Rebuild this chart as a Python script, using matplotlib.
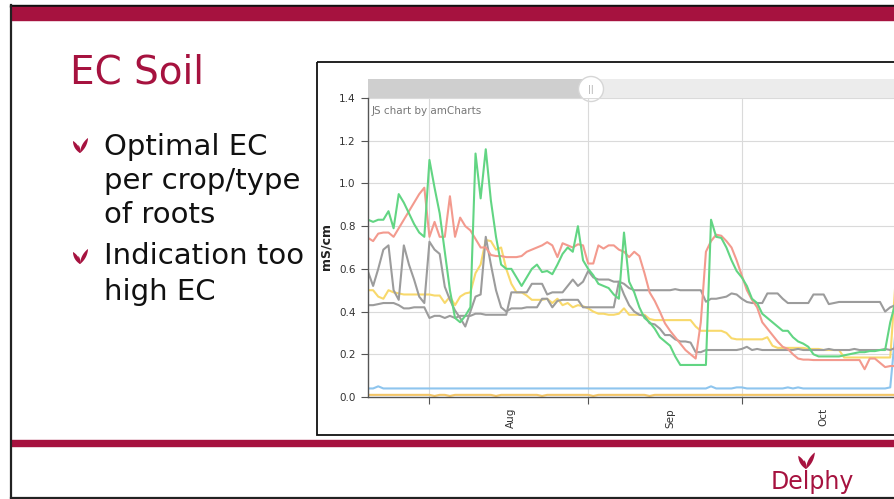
import matplotlib
matplotlib.use('Agg')
import matplotlib.pyplot as plt
import matplotlib.dates as mdates
import matplotlib.patches as mpatches
import matplotlib.ticker as mticker
import numpy as np
import pandas as pd

# daily soil EC readings (mS/cm), 20 Jul - 31 Oct
days = pd.date_range('2018-07-20', periods=104, freq='D')

green = [0.83, 0.82, 0.83, 0.83, 0.87, 0.79, 0.95, 0.91, 0.86, 0.81,
         0.77, 0.75, 1.11, 0.98, 0.86, 0.68, 0.50, 0.37, 0.35, 0.38,
         0.42, 1.14, 0.93, 1.16, 0.92, 0.75, 0.62, 0.60, 0.60, 0.56,
         0.52, 0.56, 0.60, 0.62, 0.585, 0.59, 0.575, 0.62, 0.67, 0.70,
         0.68, 0.80, 0.64, 0.60, 0.57, 0.53, 0.52, 0.51, 0.48, 0.46,
         0.77, 0.54, 0.49, 0.42, 0.37, 0.35, 0.32, 0.28, 0.26, 0.24,
         0.19, 0.15, 0.15, 0.15, 0.15, 0.15, 0.15, 0.83, 0.75, 0.745,
         0.70, 0.64, 0.59, 0.56, 0.52, 0.46, 0.44, 0.39, 0.37, 0.35,
         0.33, 0.31, 0.31, 0.28, 0.26, 0.25, 0.235, 0.20, 0.19, 0.19,
         0.19, 0.19, 0.19, 0.195, 0.20, 0.205, 0.21, 0.21, 0.215, 0.215,
         0.22, 0.22, 0.35, 0.44]

red = [0.745, 0.73, 0.765, 0.77, 0.77, 0.75, 0.79, 0.83, 0.87, 0.91,
       0.95, 0.98, 0.75, 0.82, 0.75, 0.75, 0.94, 0.75, 0.84, 0.80,
       0.78, 0.74, 0.70, 0.70, 0.665, 0.66, 0.66, 0.655, 0.655, 0.655,
       0.66, 0.68, 0.69, 0.70, 0.71, 0.725, 0.71, 0.655, 0.72, 0.71,
       0.70, 0.715, 0.71, 0.625, 0.625, 0.71, 0.695, 0.71, 0.71, 0.69,
       0.68, 0.655, 0.68, 0.66, 0.58, 0.49, 0.45, 0.40, 0.345, 0.31,
       0.28, 0.25, 0.22, 0.20, 0.18, 0.35, 0.68, 0.73, 0.76, 0.755,
       0.73, 0.70, 0.64, 0.57, 0.50, 0.455, 0.42, 0.35, 0.32, 0.29,
       0.26, 0.235, 0.225, 0.20, 0.18, 0.175, 0.175, 0.173, 0.173, 0.173,
       0.173, 0.173, 0.173, 0.173, 0.173, 0.173, 0.173, 0.13, 0.18, 0.18,
       0.16, 0.14, 0.145, 0.145]

gray_a = [0.587, 0.52, 0.60, 0.69, 0.71, 0.50, 0.455, 0.71, 0.62, 0.55,
          0.47, 0.44, 0.727, 0.69, 0.67, 0.516, 0.455, 0.405, 0.37, 0.33,
          0.40, 0.47, 0.48, 0.75, 0.62, 0.50, 0.42, 0.40, 0.415, 0.415,
          0.415, 0.42, 0.42, 0.42, 0.46, 0.46, 0.42, 0.45, 0.455, 0.455,
          0.455, 0.455, 0.42, 0.42, 0.42, 0.42, 0.42, 0.42, 0.42, 0.54,
          0.48, 0.43, 0.40, 0.385, 0.38, 0.345, 0.34, 0.32, 0.29, 0.29,
          0.27, 0.26, 0.26, 0.255, 0.21, 0.21, 0.22, 0.22, 0.22, 0.22,
          0.22, 0.22, 0.22, 0.225, 0.235, 0.22, 0.225, 0.22, 0.22, 0.22,
          0.22, 0.22, 0.22, 0.22, 0.225, 0.22, 0.22, 0.22, 0.22, 0.22,
          0.225, 0.22, 0.22, 0.22, 0.22, 0.225, 0.22, 0.22, 0.22, 0.22,
          0.22, 0.225, 0.22, 0.23]

gray_b = [0.43, 0.43, 0.435, 0.44, 0.44, 0.44, 0.43, 0.415, 0.415, 0.42,
          0.42, 0.42, 0.37, 0.38, 0.38, 0.37, 0.38, 0.37, 0.38, 0.38,
          0.38, 0.39, 0.39, 0.385, 0.385, 0.385, 0.385, 0.385, 0.49, 0.49,
          0.49, 0.49, 0.53, 0.53, 0.53, 0.48, 0.49, 0.49, 0.49, 0.52,
          0.55, 0.52, 0.54, 0.59, 0.56, 0.55, 0.55, 0.55, 0.54, 0.54,
          0.53, 0.51, 0.50, 0.50, 0.50, 0.50, 0.50, 0.50, 0.50, 0.50,
          0.505, 0.50, 0.50, 0.50, 0.50, 0.50, 0.446, 0.46, 0.46, 0.465,
          0.47, 0.485, 0.48, 0.46, 0.445, 0.44, 0.44, 0.44, 0.485, 0.485,
          0.485, 0.46, 0.44, 0.44, 0.44, 0.44, 0.44, 0.48, 0.48, 0.48,
          0.435, 0.44, 0.445, 0.445, 0.445, 0.445, 0.445, 0.445, 0.445, 0.445,
          0.445, 0.40, 0.42, 0.43]

yellow = [0.50, 0.50, 0.47, 0.46, 0.50, 0.49, 0.485, 0.48, 0.48, 0.48,
          0.48, 0.48, 0.48, 0.475, 0.475, 0.44, 0.47, 0.43, 0.47, 0.485,
          0.49, 0.58, 0.62, 0.735, 0.73, 0.69, 0.70, 0.60, 0.53, 0.49,
          0.49, 0.475, 0.455, 0.455, 0.455, 0.46, 0.44, 0.46, 0.43, 0.44,
          0.42, 0.43, 0.425, 0.415, 0.40, 0.39, 0.39, 0.385, 0.385, 0.39,
          0.415, 0.385, 0.385, 0.385, 0.385, 0.365, 0.36, 0.36, 0.36, 0.36,
          0.36, 0.36, 0.36, 0.36, 0.33, 0.31, 0.31, 0.31, 0.31, 0.31,
          0.30, 0.275, 0.27, 0.27, 0.27, 0.27, 0.27, 0.27, 0.28, 0.24,
          0.23, 0.23, 0.23, 0.23, 0.23, 0.23, 0.225, 0.225, 0.225, 0.22,
          0.22, 0.22, 0.22, 0.185, 0.185, 0.185, 0.185, 0.185, 0.185, 0.185,
          0.185, 0.185, 0.185, 0.53]

blue = [0.04, 0.04, 0.05, 0.04, 0.04, 0.04, 0.04, 0.04, 0.04, 0.04,
        0.04, 0.04, 0.04, 0.04, 0.04, 0.04, 0.04, 0.04, 0.04, 0.04,
        0.04, 0.04, 0.04, 0.04, 0.04, 0.04, 0.04, 0.04, 0.04, 0.04,
        0.04, 0.04, 0.04, 0.04, 0.04, 0.04, 0.04, 0.04, 0.04, 0.04,
        0.04, 0.04, 0.04, 0.04, 0.04, 0.04, 0.04, 0.04, 0.04, 0.04,
        0.04, 0.04, 0.04, 0.04, 0.04, 0.04, 0.04, 0.04, 0.04, 0.04,
        0.04, 0.04, 0.04, 0.04, 0.04, 0.04, 0.04, 0.05, 0.04, 0.04,
        0.04, 0.04, 0.045, 0.045, 0.04, 0.04, 0.04, 0.04, 0.04, 0.04,
        0.04, 0.04, 0.045, 0.04, 0.045, 0.04, 0.04, 0.04, 0.04, 0.04,
        0.04, 0.04, 0.04, 0.04, 0.04, 0.04, 0.04, 0.04, 0.04, 0.04,
        0.04, 0.04, 0.045, 0.30]

yellow_low = [0.01, 0.01, 0.01, 0.01, 0.01, 0.01, 0.01, 0.01, 0.01, 0.01,
              0.01, 0.01, 0.01, 0.005, 0.01, 0.01, 0.005, 0.01, 0.01, 0.01,
              0.01, 0.01, 0.01, 0.01, 0.01, 0.005, 0.01, 0.01, 0.01, 0.01,
              0.01, 0.01, 0.01, 0.01, 0.005, 0.01, 0.01, 0.01, 0.01, 0.01,
              0.01, 0.01, 0.01, 0.01, 0.005, 0.01, 0.01, 0.01, 0.01, 0.01,
              0.01, 0.01, 0.01, 0.01, 0.01, 0.005, 0.01, 0.01, 0.01, 0.01,
              0.01, 0.01, 0.01, 0.01, 0.01, 0.01, 0.01, 0.01, 0.01, 0.01,
              0.01, 0.01, 0.01, 0.01, 0.01, 0.01, 0.01, 0.01, 0.01, 0.01,
              0.01, 0.01, 0.01, 0.01, 0.01, 0.01, 0.01, 0.01, 0.01, 0.01,
              0.01, 0.01, 0.01, 0.01, 0.01, 0.01, 0.01, 0.01, 0.01, 0.01,
              0.01, 0.01, 0.01, 0.01]

series = [
    (blue, '#8ec5ee'),
    (yellow_low, '#f3c566'),
    (yellow, '#f8d96c'),
    (gray_a, '#9c9c9c'),
    (gray_b, '#9c9c9c'),
    (red, '#f39a8e'),
    (green, '#62d583'),
]

bullets = ['Optimal EC', 'per crop/type', 'of roots', 'Indication too', 'high EC']
bullet_y = [155, 189, 223, 264, 300]

W, H = 895, 499
crimson = '#a6123f'

fig = plt.figure(figsize=(W / 100, H / 100), dpi=100)

# slide layer, pixel coordinates
bg = fig.add_axes([0, 0, 1, 1])
bg.set_xlim(0, W)
bg.set_ylim(H, 0)
bg.axis('off')

bg.add_patch(mpatches.Rectangle((10, 4.5), 900, 2.2, color='#111111'))
bg.add_patch(mpatches.Rectangle((11, 6.7), 900, 13, color=crimson))
bg.add_patch(mpatches.Rectangle((11, 440), 900, 6, color=crimson))
bg.plot([11, 11], [4.5, 498], color='#222222', lw=1.6)
bg.plot([11, 900], [497.5, 497.5], color='#222222', lw=1.6)


def leaf(base, tip, w, **kw):
    t = np.linspace(0, 1, 20)
    b = np.array(base, float)
    d = np.array(tip, float) - b
    n = np.array([-d[1], d[0]]) / np.hypot(*d)
    off = w * np.sin(np.pi * t) ** 0.8
    side1 = b + np.outer(t, d) + np.outer(off, n)
    side2 = b + np.outer(t, d) - np.outer(off, n)
    pts = np.vstack([side1, side2[::-1]])
    bg.add_patch(mpatches.Polygon(pts, closed=True, **kw))


def sprout(x, y, s):
    leaf((x, y), (x - 7 * s, y - 12 * s), 1.9 * s, color=crimson, lw=0)
    leaf((x, y), (x + 8 * s, y - 15 * s), 1.9 * s, color=crimson, lw=0)
    leaf((x, y), (x - 1.5 * s, y - 8 * s), 0.9 * s, color=crimson, lw=0)


bg.text(70, 83, 'EC Soil', fontsize=28, color=crimson, va='baseline')
for txt, yb in zip(bullets, bullet_y):
    bg.text(104, yb, txt, fontsize=21, color='#111111', va='baseline')
sprout(80, 153, 1.0)
sprout(80, 264, 1.0)

# Delphy logo
sprout(806, 469, 1.1)
bg.text(771, 489, 'Delphy', fontsize=17, color=crimson, va='baseline')

# chart frame and scrollbar
bg.add_patch(mpatches.Rectangle((317, 62), 620, 373, fill=False,
                                ec='#111111', lw=1.3))
bg.add_patch(mpatches.Rectangle((368, 79), 560, 19, color='#ececec', lw=0))
bg.add_patch(mpatches.Rectangle((368, 79), 223, 19, color='#cfcfcf', lw=0))
bg.add_patch(mpatches.Circle((591, 89), 12.5, fc='white', ec='#d6d6d6', lw=1))
bg.text(591, 89, '||', fontsize=6, color='#aaaaaa', ha='center', va='center')
bg.text(372, 111, 'JS chart by amCharts', fontsize=7.5, color='#777777',
        va='center')
bg.text(326, 246, 'mS/cm', fontsize=9, fontweight='bold', color='#222222',
        rotation=90, ha='center', va='center')

# plot area
x0, x1, ytop, ybot = 368, 368 + 104 * 5.12, 98, 397
ax = fig.add_axes([x0 / W, (H - ybot) / H, (x1 - x0) / W, (ybot - ytop) / H])
ax.patch.set_alpha(0)
for vals, col in series:
    ax.plot(days, vals, color=col, lw=1.5, solid_joinstyle='round')

ax.set_xlim(days[0], days[0] + pd.Timedelta(days=104))
ax.set_ylim(0, 1.4)
ax.set_yticks(np.arange(0, 1.41, 0.2))
ax.yaxis.set_major_formatter(mticker.FormatStrFormatter('%.1f'))
ax.xaxis.set_major_locator(mdates.MonthLocator())
ax.xaxis.set_major_formatter(mticker.NullFormatter())
ax.xaxis.set_minor_locator(mdates.MonthLocator(bymonthday=17))
ax.xaxis.set_minor_formatter(mdates.DateFormatter('%b'))
ax.grid(True, which='major', color='#dadada', lw=0.8)
ax.set_axisbelow(True)

for s in ['top', 'right']:
    ax.spines[s].set_visible(False)
for s in ['left', 'bottom']:
    ax.spines[s].set_color('#555555')
    ax.spines[s].set_linewidth(1.0)

ax.tick_params(axis='y', length=5, width=0.8, color='#555555', labelsize=7.5,
               labelcolor='#333333', pad=4)
ax.tick_params(axis='x', which='major', length=5, width=0.8, color='#555555')
ax.tick_params(axis='x', which='minor', length=0, labelsize=7.5,
               labelcolor='#333333', labelrotation=90, pad=8)

fig.savefig('out.png', dpi=100)
